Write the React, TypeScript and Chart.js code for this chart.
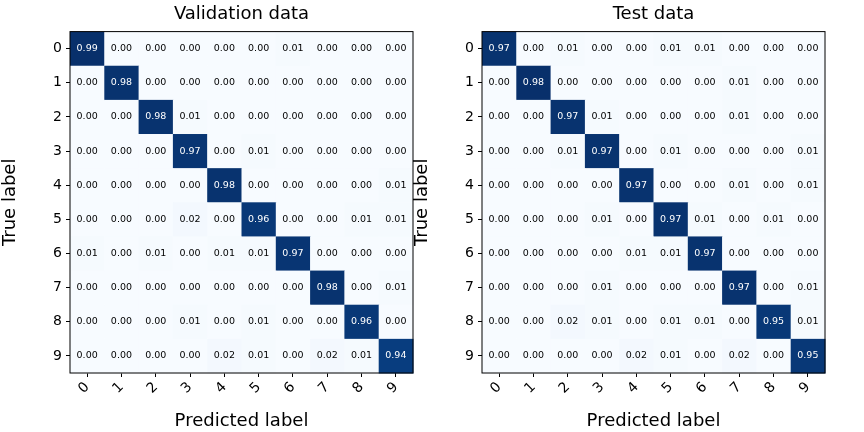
import { useEffect, useRef } from "react";
import { Chart, registerables } from "chart.js";

Chart.register(...registerables);

const classLabels = ["0", "1", "2", "3", "4", "5", "6", "7", "8", "9"];

const validationMatrix = [
  [0.99, 0.0, 0.0, 0.0, 0.0, 0.0, 0.01, 0.0, 0.0, 0.0],
  [0.0, 0.98, 0.0, 0.0, 0.0, 0.0, 0.0, 0.0, 0.0, 0.0],
  [0.0, 0.0, 0.98, 0.01, 0.0, 0.0, 0.0, 0.0, 0.0, 0.0],
  [0.0, 0.0, 0.0, 0.97, 0.0, 0.01, 0.0, 0.0, 0.0, 0.0],
  [0.0, 0.0, 0.0, 0.0, 0.98, 0.0, 0.0, 0.0, 0.0, 0.01],
  [0.0, 0.0, 0.0, 0.02, 0.0, 0.96, 0.0, 0.0, 0.01, 0.01],
  [0.01, 0.0, 0.01, 0.0, 0.01, 0.01, 0.97, 0.0, 0.0, 0.0],
  [0.0, 0.0, 0.0, 0.0, 0.0, 0.0, 0.0, 0.98, 0.0, 0.01],
  [0.0, 0.0, 0.0, 0.01, 0.0, 0.01, 0.0, 0.0, 0.96, 0.0],
  [0.0, 0.0, 0.0, 0.0, 0.02, 0.01, 0.0, 0.02, 0.01, 0.94],
];

const testMatrix = [
  [0.97, 0.0, 0.01, 0.0, 0.0, 0.01, 0.01, 0.0, 0.0, 0.0],
  [0.0, 0.98, 0.0, 0.0, 0.0, 0.0, 0.0, 0.01, 0.0, 0.0],
  [0.0, 0.0, 0.97, 0.01, 0.0, 0.0, 0.0, 0.01, 0.0, 0.0],
  [0.0, 0.0, 0.01, 0.97, 0.0, 0.01, 0.0, 0.0, 0.0, 0.01],
  [0.0, 0.0, 0.0, 0.0, 0.97, 0.0, 0.0, 0.01, 0.0, 0.01],
  [0.0, 0.0, 0.0, 0.01, 0.0, 0.97, 0.01, 0.0, 0.01, 0.0],
  [0.0, 0.0, 0.0, 0.0, 0.01, 0.01, 0.97, 0.0, 0.0, 0.0],
  [0.0, 0.0, 0.0, 0.01, 0.0, 0.0, 0.0, 0.97, 0.0, 0.01],
  [0.0, 0.0, 0.02, 0.01, 0.0, 0.01, 0.01, 0.0, 0.95, 0.01],
  [0.0, 0.0, 0.0, 0.0, 0.02, 0.01, 0.0, 0.02, 0.0, 0.95],
];

// matplotlib "Blues"
const blues = [
  [247, 251, 255], [222, 235, 247], [198, 219, 239], [158, 202, 225],
  [107, 174, 214], [66, 146, 198], [33, 113, 181], [8, 81, 156], [8, 48, 107],
];

function bluesColor(t: number) {
  const p = Math.max(0, Math.min(1, t)) * (blues.length - 1);
  const i = Math.min(Math.floor(p), blues.length - 2);
  const f = p - i;
  const c = blues[i].map((v, k) => Math.round(v + (blues[i + 1][k] - v) * f));
  return `rgb(${c[0]},${c[1]},${c[2]})`;
}

const FONT = "'DejaVu Sans', sans-serif";

const cellPlugin = {
  id: "cells",
  beforeDatasetsDraw(chart: any) {
    const { ctx, chartArea } = chart;
    const xs = chart.scales.x;
    const ys = chart.scales.y;
    const pts = chart.data.datasets[0].data as any[];
    const vals = pts.map((p) => p.v);
    const lo = Math.min(...vals);
    const hi = Math.max(...vals);
    ctx.save();
    for (const p of pts) {
      const x0 = xs.getPixelForValue(p.x - 0.5);
      const x1 = xs.getPixelForValue(p.x + 0.5);
      const y0 = ys.getPixelForValue(p.y - 0.5);
      const y1 = ys.getPixelForValue(p.y + 0.5);
      ctx.fillStyle = bluesColor((p.v - lo) / (hi - lo));
      ctx.fillRect(Math.min(x0, x1), Math.min(y0, y1), Math.abs(x1 - x0) + 0.5, Math.abs(y1 - y0) + 0.5);
    }
    ctx.font = `9.5px ${FONT}`;
    ctx.textAlign = "center";
    ctx.textBaseline = "middle";
    for (const p of pts) {
      ctx.fillStyle = p.v > (hi + lo) / 2 ? "#fff" : "#000";
      ctx.fillText(p.v.toFixed(2), xs.getPixelForValue(p.x), ys.getPixelForValue(p.y));
    }
    ctx.strokeStyle = "#000";
    ctx.lineWidth = 1;
    ctx.strokeRect(chartArea.left, chartArea.top, chartArea.width, chartArea.height);
    ctx.restore();
  },
};

function Matrix({ title, matrix, left }: { title: string; matrix: number[][]; left: number }) {
  const ref = useRef<HTMLCanvasElement | null>(null);

  useEffect(() => {
    if (!ref.current) return;
    const data = matrix.flatMap((row, r) => row.map((v, c) => ({ x: c, y: r, v })));
    const tickCb = (v: any) => (Number.isInteger(v) ? classLabels[v] : "");
    const chart = new Chart(ref.current, {
      type: "scatter",
      data: { datasets: [{ data, pointRadius: 0, pointHoverRadius: 0 }] },
      plugins: [cellPlugin],
      options: {
        animation: false,
        responsive: false,
        layout: { padding: { left: 0, right: 19, top: 0, bottom: 0 } },
        plugins: {
          legend: { display: false },
          tooltip: { enabled: false },
          title: {
            display: true,
            text: title,
            fullSize: false,
            color: "#000",
            font: { family: FONT, size: 18, weight: "normal" },
            padding: { top: 4, bottom: 6 },
          },
        },
        scales: {
          x: {
            type: "linear",
            min: -0.5,
            max: 9.5,
            afterBuildTicks: (s: any) => {
              s.ticks = classLabels.map((_, i) => ({ value: i }));
            },
            afterFit: (s: any) => {
              s.height = 59;
            },
            ticks: {
              callback: tickCb,
              color: "#000",
              font: { family: FONT, size: 14 },
              maxRotation: 45,
              minRotation: 45,
              padding: 2,
            },
            grid: { display: true, drawOnChartArea: false, tickLength: 4, color: "#000" },
            border: { display: false },
            title: {
              display: true,
              text: "Predicted label",
              color: "#000",
              font: { family: FONT, size: 18 },
              padding: 0,
            },
          },
          y: {
            type: "linear",
            reverse: true,
            min: -0.5,
            max: 9.5,
            afterBuildTicks: (s: any) => {
              s.ticks = classLabels.map((_, i) => ({ value: i }));
            },
            afterFit: (s: any) => {
              s.width = 70;
            },
            ticks: {
              callback: tickCb,
              color: "#000",
              font: { family: FONT, size: 14 },
              padding: 4,
            },
            grid: { display: true, drawOnChartArea: false, tickLength: 4, color: "#000" },
            border: { display: false },
            title: {
              display: true,
              text: "True label",
              color: "#000",
              font: { family: FONT, size: 18 },
              padding: 0,
            },
          },
        },
      },
    });
    return () => chart.destroy();
  }, [title, matrix]);

  return (
    <canvas
      ref={ref}
      width={432}
      height={432}
      style={{ position: "absolute", left, top: 0, width: 432, height: 432 }}
    />
  );
}

export default function App() {
  return (
    <div style={{ position: "fixed", left: 0, top: 0, width: 864, height: 432, background: "#fff" }}>
      <Matrix title="Validation data" matrix={validationMatrix} left={0} />
      <Matrix title="Test data" matrix={testMatrix} left={412} />
    </div>
  );
}
